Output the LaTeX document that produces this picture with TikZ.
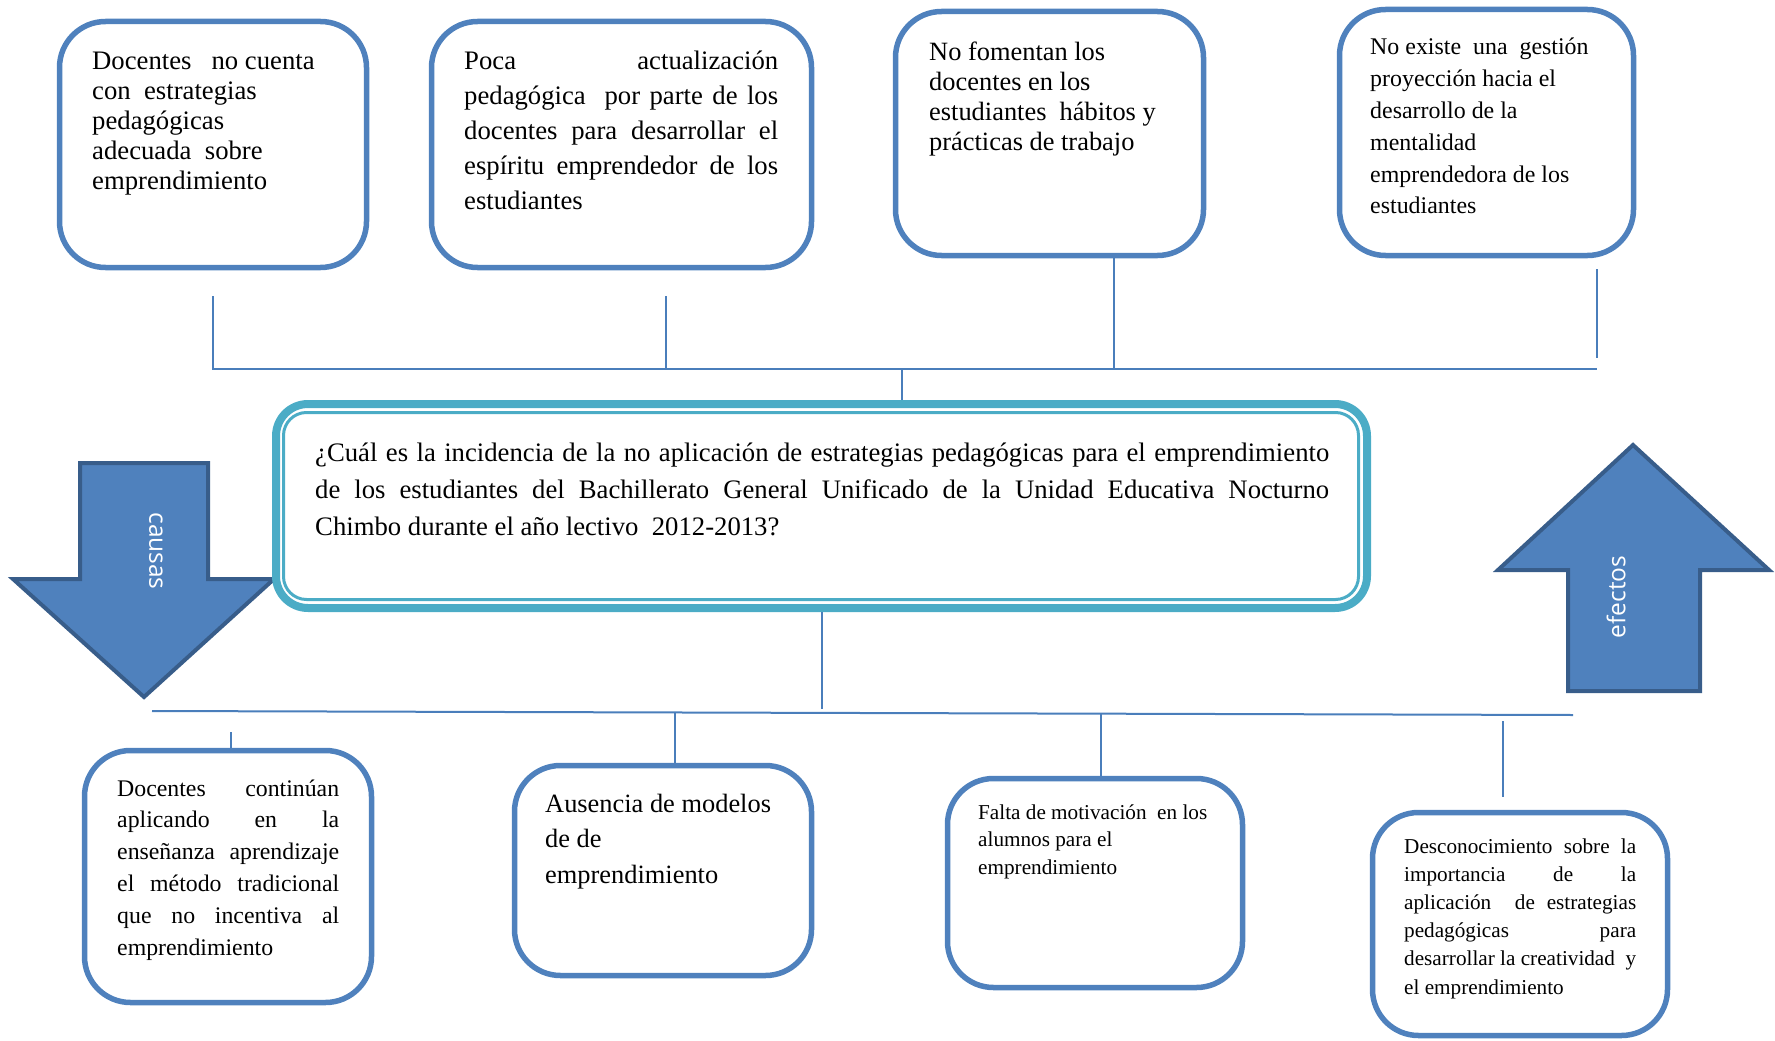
\documentclass[tikz,border=0pt]{standalone}
\usepackage{fontspec}
\setmainfont{Liberation Serif}
\newfontfamily\arrowfont{Open Sans}
\usetikzlibrary{calc}
\definecolor{boxblue}{HTML}{4F81BD}
\definecolor{linkblue}{HTML}{4A7EBB}
\definecolor{qteal}{HTML}{4BACC6}
\definecolor{arrowedge}{HTML}{385D8A}
\newcommand\jline[2]{\makebox[#1][s]{\spaceskip=0pt\relax\xspaceskip=0pt\relax #2}\\}
\tikzset{
  cbox/.style={rectangle, draw=boxblue, line width=5.5pt, rounded corners=46pt, fill=white, inner sep=0pt},
  txt/.style={anchor=base west, inner sep=0pt, align=left, execute at begin node={\spaceskip=0pt\relax\xspaceskip=0pt\relax}},
  link/.style={draw=linkblue, line width=2pt},
  bigarrow/.style={fill=boxblue, draw=arrowedge, line width=4pt, line join=miter},
  arrowtxt/.style={inner sep=0pt, text=white, font=\arrowfont\fontsize{24.5}{28}\selectfont},
  qouter/.style={rectangle, draw=qteal, line width=8pt, rounded corners=32pt, inner sep=0pt},
  qinner/.style={rectangle, draw=qteal, line width=3pt, rounded corners=23pt, inner sep=0pt}
}
\begin{document}
\begin{tikzpicture}[x=1pt, y=-1pt]
\useasboundingbox (0,0) rectangle (1775,1041);

% arrows
\draw[bigarrow] (80,463) -- (208,463) -- (208,579) -- (274,579) -- (144,697) -- (13,579) -- (80,579) -- cycle;
\node[arrowtxt, rotate=-90] (causas) at (156,551) {causas};
\draw[bigarrow] (1568,691) -- (1568,570) -- (1498,570) -- (1633,445) -- (1769,570) -- (1700,570) -- (1700,691) -- cycle;
\node[arrowtxt, rotate=90] (efectos) at (1616,597) {efectos};

% top boxes
\node[cbox, minimum width=307pt, minimum height=246pt] (c1) at (213,144.5) {};
\node[cbox, minimum width=380pt, minimum height=246pt] (c2) at (621.5,144.5) {};
\node[cbox, minimum width=308pt, minimum height=244pt] (c3) at (1049.5,133.5) {};
\node[cbox, minimum width=294pt, minimum height=246pt] (c4) at (1486.5,132.5) {};

\node[txt, text width=250pt, font=\fontsize{26.7}{30}\selectfont] (c1t) at (92,70)
 {Docentes \ \ no cuenta\\con \ estrategias\\pedagógicas\\adecuada \ sobre\\emprendimiento};
\node[txt, text width=314pt, font=\fontsize{26.7}{35}\selectfont] (c2t) at (464,70)
 {\jline{314pt}{Poca actualización}\jline{314pt}{pedagógica \ por parte de los}\jline{314pt}{docentes para desarrollar el}\jline{314pt}{espíritu emprendedor de los}estudiantes};
\node[txt, text width=260pt, font=\fontsize{26.4}{30.3}\selectfont] (c3t) at (929,60)
 {No fomentan los\\docentes en los\\estudiantes \ hábitos y\\prácticas de trabajo};
\node[txt, text width=260pt, font=\fontsize{23.9}{31.8}\selectfont] (c4t) at (1370,55)
 {No existe \ una \ gestión\\proyección hacia el\\desarrollo de la\\mentalidad\\emprendedora de los\\estudiantes};

% question box
\node[qouter, minimum width=1091pt, minimum height=204pt] (q) at (821.5,506) {};
\node[qinner, minimum width=1075pt, minimum height=187pt] (qi) at (821,506) {};
\node[txt, text width=1014pt, font=\fontsize{26.7}{37}\selectfont] (qt) at (315,461)
 {\jline{1014pt}{¿Cuál es la incidencia de la no aplicación de estrategias pedagógicas para el emprendimiento}\jline{1014pt}{de los estudiantes del Bachillerato General Unificado de la Unidad Educativa Nocturno}Chimbo durante el año lectivo \ 2012-2013?};

% bottom boxes
\node[cbox, minimum width=287pt, minimum height=252pt] (e1) at (228,876.5) {};
\node[cbox, minimum width=297pt, minimum height=210pt] (e2) at (663,870.5) {};
\node[cbox, minimum width=295pt, minimum height=209pt] (e3) at (1095,883) {};
\node[cbox, minimum width=295pt, minimum height=223pt] (e4) at (1520,924) {};

\node[txt, text width=222pt, font=\fontsize{23.8}{31.8}\selectfont] (e1t) at (117,796)
 {\jline{222pt}{Docentes continúan}\jline{222pt}{aplicando en la}\jline{222pt}{enseñanza aprendizaje}\jline{222pt}{el método tradicional}\jline{222pt}{que no incentiva al}emprendimiento};
\node[txt, text width=250pt, font=\fontsize{26.4}{35.5}\selectfont] (e2t) at (545,812)
 {Ausencia de modelos\\de de\\emprendimiento};
\node[txt, text width=250pt, font=\fontsize{21.2}{27.5}\selectfont] (e3t) at (978,819)
 {Falta de motivación \ en los\\alumnos para el\\emprendimiento};
\node[txt, text width=232pt, font=\fontsize{21.2}{28.2}\selectfont] (e4t) at (1404,853)
 {\jline{232pt}{Desconocimiento sobre la}\jline{232pt}{importancia de la}\jline{232pt}{aplicación \ de estrategias}\jline{232pt}{pedagógicas para}\jline{232pt}{desarrollar la creatividad \ y}el emprendimiento};

% top connectors
\coordinate (t1) at (213,296);
\coordinate (h1) at (213,369);
\coordinate (t2) at (666,296);
\coordinate (h2) at (666,369);
\coordinate (h3) at (1114,369);
\coordinate (t4) at (1597,269);
\coordinate (t4b) at (1597,358);
\coordinate (h4) at (1597,369);
\coordinate (hm) at (902,369);
\draw[link] (t1) -- (h1) -- (h4);
\draw[link] (t2) -- (h2);
\draw[link] (c3.south -| h3) -- (h3);
\draw[link] (t4) -- (t4b);
\draw[link] (hm) -- (q.north -| hm);

% bottom connectors
\coordinate (bl) at (152,711);
\coordinate (br) at (1573,715);
\coordinate (qd) at (822,709);
\coordinate (s1) at (231,732);
\coordinate (s2) at (675,711.8);
\coordinate (s3) at (1101,713.4);
\coordinate (s4) at (1503,721);
\coordinate (s4b) at (1503,797);
\draw[link] (bl) -- (br);
\draw[link] (q.south -| qd) -- (qd);
\draw[link] (s1) -- (e1.north -| s1);
\draw[link] (s2) -- (e2.north -| s2);
\draw[link] (s3) -- (e3.north -| s3);
\draw[link] (s4) -- (s4b);
\end{tikzpicture}
\end{document}
